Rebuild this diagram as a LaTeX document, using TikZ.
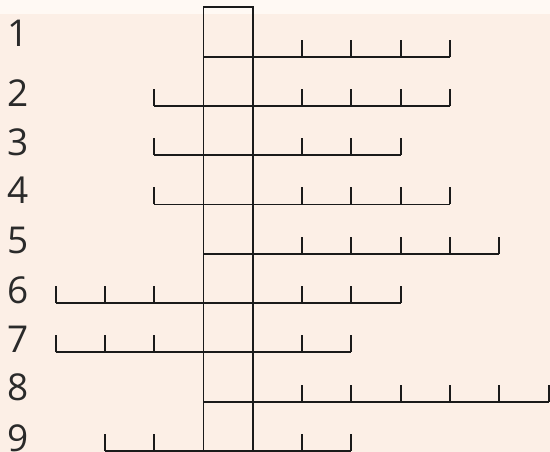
\documentclass[tikz,border=0pt]{standalone}
\usepackage{fontspec}
\setmainfont{Open Sans}
\definecolor{bgpeach}{HTML}{FCEFE6}
\definecolor{inkline}{HTML}{1A1A1A}
\definecolor{inktext}{HTML}{2A2A2A}
\begin{document}
\begin{tikzpicture}[x=1pt,y=-1pt,
  rule/.style={draw=inkline,line width=1.9pt},
  numlabel/.style={anchor=base west,inner sep=0pt,text=inktext,font=\fontsize{37}{37}\selectfont}]
\useasboundingbox (0,0) rectangle (550,452);
\fill[bgpeach] (0,0) rectangle (550,452);
\fill[bgpeach!70!orange!12] (0,0) rectangle (550,14);
\def\L{203.5}
\def\u{49.3}
\def\T{7.3}
% column of boxes
\draw[rule] (\L,460) -- (\L,\T) -- ({\L+\u},\T) -- ({\L+\u},460);
% rows: index/left ticks/right ticks
\foreach \r/\nl/\nr in {1/0/4,2/1/4,3/1/3,4/1/4,5/0/5,6/3/3,7/3/2,8/0/6,9/2/2}{
  \pgfmathsetmacro\yy{\T+\r*\u}
  \pgfmathsetmacro\xa{\L-\nl*\u}
  \pgfmathsetmacro\xb{\L+\u+\nr*\u}
  \draw[rule] (\xa,\yy) -- (\xb,\yy);
  \ifnum\nl>0
    \foreach \k in {1,...,\nl}{\draw[rule] ({\L-\k*\u},\yy) -- ({\L-\k*\u},\yy-17);}
  \fi
  \foreach \k in {1,...,\nr}{\draw[rule] ({\L+\u+\k*\u},\yy) -- ({\L+\u+\k*\u},\yy-17);}
}
\node[numlabel] (n1) at (7,47) {1};
\node[numlabel] (n2) at (7,106.5) {2};
\node[numlabel] (n3) at (7,155.5) {3};
\node[numlabel] (n4) at (7,204) {4};
\node[numlabel] (n5) at (7,253) {5};
\node[numlabel] (n6) at (7,303.5) {6};
\node[numlabel] (n7) at (7,352) {7};
\node[numlabel] (n8) at (7,400.5) {8};
\node[numlabel] (n9) at (7,451) {9};
\end{tikzpicture}
\end{document}
